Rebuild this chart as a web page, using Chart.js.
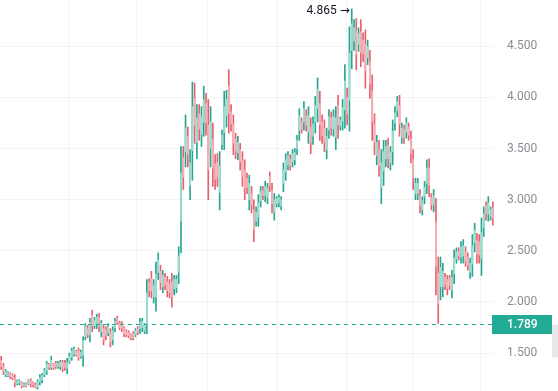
<!DOCTYPE html>
<html>
<head>
<meta charset="utf-8">
<script src="https://cdn.jsdelivr.net/npm/chart.js@4.4.1/dist/chart.umd.min.js"></script>
<style>
  html, body { margin: 0; padding: 0; background: #fff; }
  canvas { display: block; }
</style>
</head>
<body>
<canvas id="c" width="558" height="391"></canvas>
<script>
// price bars (217 bars, oldest first)
const highs = [
  1.47,1.40,1.34,1.32,1.31,1.30,1.29,1.24,1.24,1.22,
  1.21,1.21,1.24,1.25,1.22,1.21,1.24,1.29,1.30,1.35,
  1.42,1.40,1.47,1.40,1.42,1.42,1.43,1.43,1.43,1.45,
  1.50,1.55,1.56,1.53,1.55,1.53,1.66,1.79,1.77,1.84,
  1.92,1.85,1.88,1.89,1.82,1.78,1.76,1.79,1.74,1.76,
  1.84,1.86,1.81,1.81,1.76,1.73,1.72,1.69,1.71,1.74,
  1.76,1.84,1.84,1.79,2.22,2.23,2.30,2.22,2.39,2.48,
  2.36,2.31,2.28,2.25,2.22,2.28,2.26,2.26,2.54,3.52,
  3.52,3.83,3.71,3.49,4.15,4.14,3.93,3.93,3.91,4.11,
  4.04,3.98,3.91,3.75,3.44,3.45,3.47,3.68,4.06,4.07,
  4.27,3.93,3.83,3.65,3.62,3.55,3.47,3.39,3.26,3.24,
  3.13,3.00,2.93,3.05,3.13,3.13,3.18,3.16,3.27,3.16,
  3.06,3.03,3.05,3.03,3.36,3.45,3.47,3.44,3.49,3.50,
  3.63,3.89,3.80,3.96,3.88,3.91,3.80,3.81,4.01,4.19,
  4.06,3.83,3.78,3.70,3.88,3.86,3.88,3.91,4.02,3.81,
  3.98,4.32,4.09,4.69,4.865,4.76,4.77,4.68,4.76,4.63,
  4.66,4.56,4.46,4.22,3.84,3.63,3.58,3.49,3.58,3.58,
  3.60,3.52,3.78,3.91,4.01,4.02,3.75,3.73,3.80,3.75,
  3.67,3.49,3.21,3.21,3.10,3.03,3.18,3.39,3.40,3.06,
  3.10,3.01,2.44,2.44,2.38,2.28,2.26,2.26,2.31,2.51,
  2.53,2.53,2.59,2.61,2.54,2.48,2.43,2.66,2.77,2.67,
  2.66,2.82,2.93,2.98,3.03,2.93,2.98
];
const lows = [
  1.34,1.29,1.27,1.27,1.25,1.24,1.17,1.19,1.19,1.16,
  1.17,1.17,1.19,1.17,1.17,1.16,1.15,1.19,1.21,1.27,
  1.29,1.34,1.34,1.34,1.35,1.35,1.34,1.32,1.33,1.30,
  1.40,1.43,1.47,1.47,1.43,1.45,1.37,1.63,1.65,1.61,
  1.71,1.74,1.74,1.71,1.66,1.58,1.63,1.67,1.56,1.58,
  1.71,1.78,1.73,1.71,1.66,1.66,1.65,1.63,1.63,1.66,
  1.68,1.69,1.71,1.69,1.69,2.05,2.04,1.99,1.91,2.22,
  2.12,2.09,2.12,2.05,2.04,1.95,2.07,2.09,2.18,2.48,
  3.10,3.32,3.32,3.00,3.19,3.55,3.40,3.58,3.52,3.62,
  3.63,3.00,3.32,3.13,3.10,3.13,2.90,3.49,3.49,3.71,
  3.65,3.67,3.44,3.40,3.39,3.29,3.13,3.00,3.06,2.90,
  2.87,2.59,2.74,2.74,2.93,3.00,2.98,2.96,3.08,2.87,
  2.80,2.93,2.93,2.90,3.08,3.19,3.29,3.29,3.32,3.34,
  3.44,3.58,3.65,3.68,3.67,3.55,3.45,3.54,3.65,3.76,
  3.58,3.55,3.47,3.40,3.60,3.63,3.62,3.49,3.60,3.68,
  3.68,3.70,3.73,3.67,4.28,4.46,4.27,4.45,4.30,4.35,
  4.09,4.32,3.99,3.58,3.44,3.34,3.23,2.96,3.14,3.32,
  3.31,3.29,3.34,3.68,3.81,3.62,3.55,3.55,3.60,3.58,
  3.36,3.10,3.00,3.00,2.87,2.85,2.96,3.06,3.03,2.90,
  2.88,2.07,1.789,2.02,2.05,2.12,2.07,2.12,2.04,2.18,
  2.38,2.41,2.38,2.38,2.35,2.31,2.23,2.25,2.49,2.38,
  2.38,2.26,2.64,2.80,2.79,2.80,2.75
];
const opens = [
  1.43,1.37,1.29,1.28,1.30,1.29,1.26,1.20,1.21,1.21,
  1.18,1.20,1.20,1.23,1.21,1.19,1.17,1.22,1.24,1.29,
  1.33,1.39,1.36,1.39,1.40,1.37,1.37,1.41,1.40,1.35,
  1.42,1.46,1.49,1.52,1.52,1.47,1.48,1.66,1.74,1.68,
  1.87,1.77,1.79,1.85,1.71,1.74,1.73,1.70,1.70,1.63,
  1.75,1.84,1.79,1.78,1.74,1.71,1.70,1.68,1.69,1.68,
  1.74,1.74,1.75,1.72,1.77,2.19,2.23,2.05,2.05,2.29,
  2.30,2.15,2.24,2.20,2.17,2.20,2.13,2.14,2.29,2.79,
  3.41,3.47,3.62,3.14,3.48,3.99,3.56,3.84,3.64,3.76,
  3.94,3.73,3.50,3.59,3.35,3.37,3.07,3.54,3.66,3.82,
  4.11,3.86,3.73,3.59,3.46,3.49,3.38,3.29,3.21,3.00,
  3.06,2.90,2.79,2.83,2.99,3.09,3.04,3.02,3.23,3.09,
  2.88,2.96,2.97,2.94,3.16,3.27,3.34,3.40,3.37,3.39,
  3.50,3.68,3.76,3.76,3.82,3.66,3.71,3.62,3.76,3.89,
  3.94,3.76,3.70,3.49,3.68,3.80,3.69,3.61,3.92,3.72,
  3.77,3.88,4.00,3.97,4.46,4.55,4.65,4.52,4.64,4.56,
  4.52,4.39,4.35,4.06,3.74,3.43,3.49,3.12,3.28,3.40,
  3.53,3.36,3.47,3.75,3.87,3.92,3.61,3.69,3.66,3.71,
  3.59,3.39,3.06,3.06,3.04,2.90,3.03,3.16,3.31,3.02,
  2.95,2.78,2.28,2.15,2.15,2.24,2.22,2.23,2.12,2.28,
  2.42,2.50,2.44,2.45,2.49,2.44,2.29,2.37,2.58,2.60,
  2.59,2.43,2.73,2.94,2.86,2.84,2.92
];
const closes = [
  1.37,1.32,1.32,1.31,1.27,1.26,1.21,1.23,1.23,1.18,
  1.20,1.18,1.23,1.20,1.19,1.17,1.22,1.26,1.28,1.33,
  1.39,1.36,1.43,1.36,1.37,1.40,1.41,1.35,1.36,1.41,
  1.47,1.52,1.54,1.48,1.46,1.51,1.62,1.76,1.68,1.80,
  1.77,1.82,1.85,1.76,1.79,1.63,1.67,1.76,1.61,1.72,
  1.81,1.80,1.75,1.74,1.69,1.68,1.67,1.65,1.65,1.72,
  1.70,1.80,1.81,1.77,2.09,2.11,2.11,2.16,2.27,2.41,
  2.19,2.26,2.17,2.11,2.09,2.05,2.22,2.22,2.45,3.26,
  3.22,3.70,3.44,3.36,3.91,3.73,3.80,3.69,3.81,3.98,
  3.75,3.29,3.76,3.31,3.20,3.22,3.33,3.63,3.91,3.98,
  3.84,3.74,3.55,3.48,3.56,3.37,3.23,3.11,3.12,3.16,
  2.95,2.71,2.88,2.97,3.08,3.04,3.13,3.11,3.14,2.96,
  3.00,3.01,3.02,3.00,3.29,3.39,3.43,3.33,3.45,3.46,
  3.58,3.82,3.69,3.89,3.73,3.82,3.56,3.74,3.92,4.08,
  3.73,3.63,3.56,3.62,3.81,3.70,3.81,3.80,3.73,3.78,
  3.90,4.16,3.84,4.43,4.72,4.68,4.42,4.62,4.44,4.43,
  4.26,4.50,4.13,3.77,3.56,3.56,3.33,3.36,3.47,3.52,
  3.40,3.46,3.67,3.85,3.96,3.74,3.70,3.60,3.75,3.63,
  3.45,3.21,3.16,3.16,2.94,2.99,3.12,3.31,3.14,2.95,
  3.04,2.35,1.98,2.34,2.30,2.17,2.13,2.16,2.24,2.43,
  2.49,2.45,2.54,2.55,2.40,2.36,2.38,2.55,2.70,2.47,
  2.46,2.68,2.86,2.86,2.97,2.90,2.82
];
const priceTicks = [1.5, 2, 2.5, 3, 3.5, 4, 4.5, 5];
const lowLine = 1.789;

const labels = highs.map((_, i) => i + 1);
const up = closes.map((c, i) => c >= opens[i]);

const GREEN = '#26a690', RED = '#e8606c';
const GREEN_BODY = '#9fdccf', RED_BODY = '#f4b0b6';
const gridColor = 'rgba(42,46,57,0.05)';
const vGrid = [30, 60, 91, 122, 152, 181, 211];

// dashed low line, its price tag, and the high marker
const marks = {
  id: 'marks',
  afterDatasetsDraw(chart) {
    const { ctx, chartArea, scales } = chart;
    const y = Math.round(scales.y.getPixelForValue(lowLine)) + 0.5;
    ctx.save();
    ctx.strokeStyle = '#22ab94';
    ctx.lineWidth = 1;
    ctx.setLineDash([4, 4]);
    ctx.beginPath();
    ctx.moveTo(chartArea.left, y);
    ctx.lineTo(chartArea.right, y);
    ctx.stroke();
    ctx.setLineDash([]);

    ctx.fillStyle = '#22ab94';
    ctx.fillRect(chartArea.right - 2, y - 9.5, 60, 19);
    ctx.fillStyle = '#fff';
    ctx.font = '500 12px Roboto, sans-serif';
    ctx.textBaseline = 'middle';
    ctx.textAlign = 'left';
    ctx.fillText(lowLine.toFixed(3), chartArea.right + 13, y + 0.5);

    ctx.fillStyle = '#e6e8ec';
    ctx.fillRect(chart.width - 6, y, 6, 33);

    let mi = 0;
    highs.forEach((h, i) => { if (h > highs[mi]) mi = i; });
    const hx = scales.x.getPixelForValue(mi);
    const hy = scales.y.getPixelForValue(highs[mi]);
    ctx.fillStyle = '#131722';
    ctx.textAlign = 'right';
    ctx.font = '12px "DejaVu Sans", sans-serif';
    ctx.fillText('\u2192', hx - 2, hy + 2);
    ctx.font = '12px Roboto, sans-serif';
    ctx.fillText(highs[mi].toFixed(3), hx - 15, hy + 2);
    ctx.restore();
  }
};

new Chart(document.getElementById('c'), {
  type: 'bar',
  data: {
    labels: labels,
    datasets: [
      {
        label: 'body',
        data: opens.map((o, i) => [o, closes[i]]),
        backgroundColor: up.map((u) => (u ? GREEN_BODY : RED_BODY)),
        barThickness: 1.2,
        grouped: false,
        order: 0,
      },
      {
        label: 'wick',
        data: lows.map((l, i) => [l, highs[i]]),
        backgroundColor: up.map((u) => (u ? GREEN : RED)),
        barThickness: 1,
        grouped: false,
        order: 1,
      },
    ],
  },
  options: {
    responsive: false,
    animation: false,
    layout: { padding: 0 },
    plugins: { legend: { display: false }, tooltip: { enabled: false } },
    scales: {
      x: {
        grid: {
          offset: true,
          drawTicks: false,
          color: (c) => (vGrid.includes(c.index) ? gridColor : 'rgba(0,0,0,0)'),
        },
        ticks: { display: false, autoSkip: false },
        border: { display: false },
        afterFit: (s) => {
          s.height = 0;
          s.paddingLeft = 0; s.paddingRight = 0;
        },
      },
      y: {
        position: 'right',
        min: 1.13,
        max: 4.952,
        afterBuildTicks: (s) => { s.ticks = priceTicks.map((v) => ({ value: v })); },
        afterFit: (s) => {
          s.width = 64;
          s.paddingTop = 0; s.paddingBottom = 0;
        },
        grid: { color: gridColor, drawTicks: false },
        border: { display: false },
        ticks: {
          padding: 13,
          color: '#8a8d95',
          font: { size: 12, family: 'Roboto' },
          callback: (v) => Number(v).toFixed(3),
        },
      },
    },
  },
  plugins: [marks],
});
</script>
</body>
</html>
